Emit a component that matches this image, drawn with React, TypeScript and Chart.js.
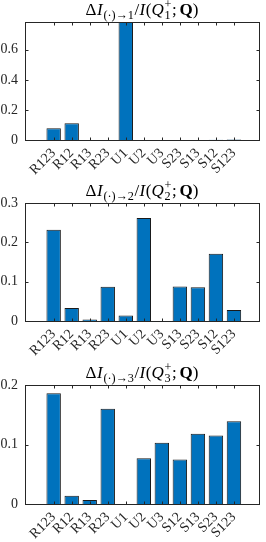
import React, { useEffect, useRef } from 'react';
import { Chart, registerables } from 'chart.js';

Chart.register(...registerables);

// ---------- data ----------
const categories1 = ['R123', 'R12', 'R13', 'R23', 'U1', 'U2', 'U3', 'S23', 'S13', 'S12', 'S123'];
const values1 = [0.078, 0.111, 0, 0, 0.785, 0, 0, 0, 0, 0.002, 0.004];
const yTicks1 = [0, 0.2, 0.4, 0.6];
const yMax1 = 0.785;

const categories2 = ['R123', 'R12', 'R13', 'R23', 'U1', 'U2', 'U3', 'S13', 'S23', 'S12', 'S123'];
const values2 = [0.232, 0.033, 0.004, 0.087, 0.014, 0.262, 0, 0.088, 0.086, 0.171, 0.028];
const yTicks2 = [0, 0.1, 0.2, 0.3];
const yMax2 = 0.3;

const categories3 = ['R123', 'R12', 'R13', 'R23', 'U1', 'U2', 'U3', 'S12', 'S13', 'S23', 'S123'];
const values3 = [0.186, 0.014, 0.0067, 0.16, 0, 0.077, 0.103, 0.075, 0.118, 0.115, 0.139];
const yTicks3 = [0, 0.1, 0.2];
const yMax3 = 0.2;

const xMin = 0;
const xMax = 11.8;

// ---------- style ----------
const FONT = "'Liberation Serif', 'DejaVu Serif', serif";
const AXIS = '#262626';
const BAR = '#0072BD';
const EDGE = '#1a1a1a';
const TICK_FONT = 14;
const TITLE_FONT = 17;
const TICK_LEN = 3;

type Seg = { t?: string; style?: string; s?: number; dy?: number; gap?: number; stack?: { t: string; dy: number }[] };

function titleSegs(k: string): Seg[] {
  return [
    { t: 'Δ', gap: 0.03 },
    { t: 'I', style: 'italic', gap: 0.04 },
    { t: '(·)→' + k, s: 0.72, dy: 0.22, gap: 0.03 },
    { t: '/', gap: 0.02 },
    { t: 'I', style: 'italic', gap: 0.03 },
    { t: '(', gap: 0.01 },
    { t: 'Q', style: 'italic', gap: 0.04 },
    { stack: [{ t: '+', dy: -0.4 }, { t: k, dy: 0.22 }], s: 0.72, gap: 0.03 },
    { t: ';', gap: 0.17 },
    { t: 'Q', style: 'bold' },
    { t: ')' },
  ];
}

function fontStr(style: string | undefined, size: number) {
  return `${style || ''} ${size}px ${FONT}`.trim();
}

function makePlugin(k: string, yTicks: number[]) {
  return {
    id: 'matlabBox' + k,
    afterDatasetsDraw(chart: any) {
      const { ctx, chartArea: a, scales } = chart;
      const x = scales.x;
      const y = scales.y;
      ctx.save();
      ctx.strokeStyle = AXIS;
      ctx.lineWidth = 1;
      const L = Math.round(a.left) + 0.5;
      const R = Math.round(a.right) + 0.5;
      const T = Math.round(a.top) + 0.5;
      const B = Math.round(a.bottom) + 0.5;
      ctx.beginPath();
      for (let i = 1; i <= 11; i++) {
        const px = Math.round(x.getPixelForValue(i)) + 0.5;
        ctx.moveTo(px, B);
        ctx.lineTo(px, B - TICK_LEN);
        ctx.moveTo(px, T);
        ctx.lineTo(px, T + TICK_LEN);
      }
      for (const v of yTicks) {
        const py = Math.round(y.getPixelForValue(v)) + 0.5;
        ctx.moveTo(L, py);
        ctx.lineTo(L + TICK_LEN, py);
        ctx.moveTo(R, py);
        ctx.lineTo(R - TICK_LEN, py);
      }
      ctx.stroke();
      ctx.strokeRect(L, T, R - L, B - T);

      // title
      const segs = titleSegs(k);
      const S = TITLE_FONT;
      const widths: number[] = segs.map((sg) => {
        const size = S * (sg.s || 1);
        let w: number;
        if (sg.stack) {
          ctx.font = fontStr('', size);
          w = Math.max(...sg.stack.map((p) => ctx.measureText(p.t).width));
        } else {
          ctx.font = fontStr(sg.style, size);
          w = ctx.measureText(sg.t as string).width;
        }
        return w + (sg.gap || 0) * S;
      });
      const total = widths.reduce((p, c) => p + c, 0);
      let cx = (a.left + a.right) / 2 - total / 2;
      const base = Math.round(a.top - 7.5);
      ctx.fillStyle = '#000';
      ctx.textAlign = 'left';
      ctx.textBaseline = 'alphabetic';
      segs.forEach((sg, i) => {
        const size = S * (sg.s || 1);
        if (sg.stack) {
          ctx.font = fontStr('', size);
          sg.stack.forEach((p) => ctx.fillText(p.t, cx, base + p.dy * S));
        } else {
          ctx.font = fontStr(sg.style, size);
          ctx.fillText(sg.t as string, cx, base + (sg.dy || 0) * S);
        }
        cx += widths[i];
      });
      ctx.restore();
    },
  };
}

type PanelProps = {
  k: string;
  categories: string[];
  values: number[];
  yTicks: number[];
  yMax: number;
  top: number;
  height: number;
  padTop: number;
  xAxisHeight: number;
};

function Panel({ k, categories, values, yTicks, yMax, top, height, padTop, xAxisHeight }: PanelProps) {
  const ref = useRef<HTMLCanvasElement | null>(null);
  useEffect(() => {
    if (!ref.current) return;
    const chart = new Chart(ref.current, {
      type: 'bar',
      data: {
        datasets: [
          {
            data: values.map((v, i) => ({ x: i + 1, y: v })),
            backgroundColor: BAR,
            borderColor: EDGE,
            borderWidth: 1,
            barPercentage: 0.8,
            categoryPercentage: 1,
          },
        ],
      },
      options: {
        animation: false,
        responsive: false,
        devicePixelRatio: 1,
        layout: { padding: { top: padTop, right: 7, left: 0, bottom: 0 } },
        plugins: { legend: { display: false }, tooltip: { enabled: false }, title: { display: false } },
        scales: {
          x: {
            type: 'linear',
            min: xMin,
            max: xMax,
            grid: { display: false, drawTicks: false },
            border: { display: false },
            afterBuildTicks: (s: any) => {
              s.ticks = categories.map((_, i) => ({ value: i + 1 }));
            },
            afterFit: (s: any) => {
              s.height = xAxisHeight;
            },
            ticks: {
              autoSkip: false,
              minRotation: 45,
              maxRotation: 45,
              padding: 5,
              color: AXIS,
              font: { family: FONT, size: TICK_FONT },
              callback: (v: any) => {
                const idx = Math.round(Number(v)) - 1;
                return categories[idx] ?? '';
              },
            },
          },
          y: {
            type: 'linear',
            min: 0,
            max: yMax,
            grid: { display: false, drawTicks: false },
            border: { display: false },
            afterBuildTicks: (s: any) => {
              s.ticks = yTicks.map((v) => ({ value: v }));
            },
            afterFit: (s: any) => {
              s.width = 25;
            },
            ticks: {
              padding: 7,
              color: AXIS,
              font: { family: FONT, size: TICK_FONT },
              callback: (v: any) => String(Number(v)),
            },
          },
        },
      } as any,
      plugins: [makePlugin(k, yTicks)],
    });
    return () => chart.destroy();
  }, []);
  return (
    <div style={{ position: 'absolute', left: 0, top, width: 266, height }}>
      <canvas ref={ref} width={266} height={height} style={{ width: 266, height, display: 'block' }} />
    </div>
  );
}

export default function App() {
  return (
    <div style={{ position: 'absolute', left: 0, top: 0, width: 266, height: 542, background: '#fff', overflow: 'hidden' }}>
      <Panel k="1" categories={categories1} values={values1} yTicks={yTicks1} yMax={yMax1} top={0} height={180} padTop={22} xAxisHeight={40} />
      <Panel k="2" categories={categories2} values={values2} yTicks={yTicks2} yMax={yMax2} top={180} height={180} padTop={23} xAxisHeight={39} />
      <Panel k="3" categories={categories3} values={values3} yTicks={yTicks3} yMax={yMax3} top={360} height={182} padTop={25} xAxisHeight={38} />
    </div>
  );
}
